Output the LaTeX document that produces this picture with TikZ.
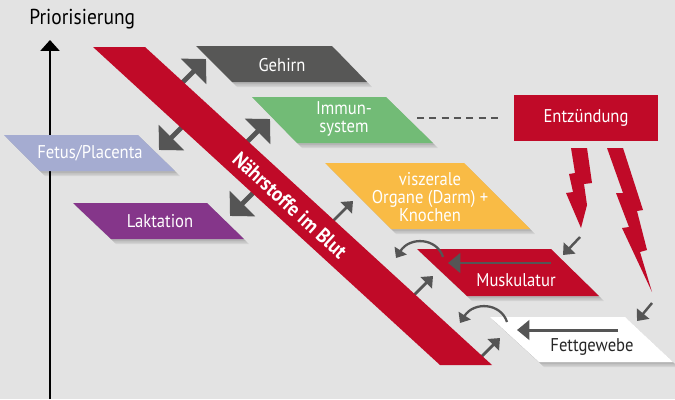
\documentclass[tikz,border=0pt]{standalone}
\usepackage{fontspec}
\setmainfont{PT Sans}[FakeStretch=0.9]
\usetikzlibrary{arrows.meta}
\definecolor{bg}{RGB}{227,227,227}
\definecolor{nred}{RGB}{192,10,40}
\definecolor{dgray}{RGB}{87,87,86}
\definecolor{agray}{RGB}{85,85,85}
\definecolor{ngreen}{RGB}{114,187,118}
\definecolor{nlav}{RGB}{165,172,209}
\definecolor{npurp}{RGB}{133,54,138}
\definecolor{norange}{RGB}{249,187,69}
\newcommand\shadowpoly[4]{%
  \foreach \s in {2,3.5,5}{\fill[black,opacity=0.07,shift={(\s,\s)}] #1 -- #2 -- #3 -- #4 -- cycle;}}
\begin{document}
\begin{tikzpicture}[x=0.02cm,y=-0.02cm,
  lbl/.style={font=\fontsize{10.5}{10.2}\selectfont, text=white, align=center, inner sep=0pt},
  bigarrow/.style={draw=agray, line width=2.8pt, -{Triangle[width=20pt,length=10pt]}},
  thinarrow/.style={draw=agray, line width=1.6pt, -{Triangle[width=9pt,length=5.5pt]}},
  innerarrow/.style={draw=agray, line width=1.7pt, -{Triangle[width=11pt,length=7pt]}},
  curvearrow/.style={draw=agray, line width=1.3pt, -{Triangle[width=8pt,length=5pt]}}]
\useasboundingbox (0,0) rectangle (675,399);
\fill[bg] (0,0) rectangle (675,399);

% title and axis
\node[font=\fontsize{12.3}{14}\selectfont, text=black, anchor=base west, inner sep=0pt] (title) at (29,24) {Priorisierung};
\coordinate (axbot) at (50,399);
\coordinate (axtop) at (50,40);
\draw[line width=1.2pt, -{Triangle[width=10.8pt,length=6.2pt]}] (axbot) -- (axtop);

% shadows
\shadowpoly{(196,46)}{(332,46)}{(367,82)}{(232,82)}
\shadowpoly{(252,97)}{(386,97)}{(433,143)}{(297,143)}
\shadowpoly{(4,135)}{(138,135)}{(175,171)}{(40,171)}
\shadowpoly{(73,203)}{(207,203)}{(244,239)}{(111,239)}
\shadowpoly{(325,163)}{(464,163)}{(530,229)}{(391,229)}
\shadowpoly{(417,249)}{(551,249)}{(599,296)}{(467,296)}
\shadowpoly{(490,317)}{(625,317)}{(673,362)}{(539,362)}

% boxes
\fill[dgray] (196,46) -- (332,46) -- (367,82) -- (232,82) -- cycle;
\node[lbl] (geh) at (282,65) {Gehirn};
\fill[ngreen] (252,97) -- (386,97) -- (433,143) -- (297,143) -- cycle;
\node[lbl] (imm) at (344,119) {Immun-\\system};
\fill[nlav] (4,135) -- (138,135) -- (175,171) -- (40,171) -- cycle;
\node[lbl] (fet) at (90,153) {Fetus/Placenta};
\fill[npurp] (73,203) -- (207,203) -- (244,239) -- (111,239) -- cycle;
\node[lbl] (lak) at (160,221) {Laktation};
\fill[norange] (325,163) -- (464,163) -- (530,229) -- (391,229) -- cycle;
\node[lbl] (visz) at (430,197) {viszerale\\Organe (Darm) +\\Knochen};
\fill[nred] (417,249) -- (551,249) -- (599,296) -- (467,296) -- cycle;
\node[lbl] (musk) at (516,280) {Muskulatur};
\fill[white] (490,317) -- (625,317) -- (673,362) -- (539,362) -- cycle;
\node[lbl, text=black!85] (fett) at (592,347) {Fettgewebe};
\fill[nred] (514,95) rectangle (658,141);
\node[lbl] (entz) at (586,118) {Entzündung};

% dashed link
\coordinate (d1) at (417,118);
\coordinate (d2) at (502,118);
\draw[agray, line width=1.2pt, dash pattern=on 4pt off 3pt] (d1) -- (d2);

% arrows from band
\coordinate (aT) at (176,89);  \coordinate (aH) at (206,59);
\coordinate (bT) at (187,122); \coordinate (bH) at (159,150);
\coordinate (cT) at (240,149); \coordinate (cH) at (270,119);
\coordinate (dT) at (258,188); \coordinate (dH) at (230,216);
\coordinate (eT) at (330,224); \coordinate (eH) at (353,201);
\coordinate (fT) at (410,299); \coordinate (fH) at (433,276);
\coordinate (gT) at (478,360); \coordinate (gH) at (500,338);
\draw[bigarrow] (aT) -- (aH);
\draw[bigarrow] (bT) -- (bH);
\draw[bigarrow] (cT) -- (cH);
\draw[bigarrow] (dT) -- (dH);
\draw[thinarrow] (eT) -- (eH);
\draw[thinarrow] (fT) -- (fH);
\draw[thinarrow] (gT) -- (gH);

% band
\fill[nred] (93,47) -- (145,47) -- (492,365) -- (440,365) -- cycle;
\node[font=\fontsize{11.8}{13}\selectfont\bfseries, text=white, rotate=-42.5, inner sep=0pt] (band) at (290,205) {Nährstoffe im Blut};

% inner arrows
\coordinate (m1) at (551,263); \coordinate (m2) at (448,263);
\draw[innerarrow] (m1) -- (m2);
\coordinate (f1) at (618,330); \coordinate (f2) at (517,330);
\draw[innerarrow] (f1) -- (f2);

% curved arrows
\coordinate (cm1) at (443,257); \coordinate (cm2) at (396,258);
\draw[curvearrow] (cm1) .. controls (437,238) and (410,236) .. (cm2);
\coordinate (cf1) at (507,322); \coordinate (cf2) at (460,323);
\draw[curvearrow] (cf1) .. controls (501,303) and (474,301) .. (cf2);

% lightning bolts
\fill[nred] (571,148) -- (587,148) -- (592,183) -- (584,184) -- (587,205) -- (581,228) -- (566,193) -- (573,192) -- (569,174) -- (575,173) -- cycle;
\fill[nred] (607,148) -- (623,148) -- (643,210) -- (637,211) -- (647,250) -- (640,252) -- (652,292) -- (622,228) -- (629,227) -- (616,193) -- (623,193) -- cycle;

% small arrows from bolts
\coordinate (h1) at (580,237); \coordinate (h2) at (563,255);
\draw[thinarrow, line width=1.4pt] (h1) -- (h2);
\coordinate (i1) at (652,303); \coordinate (i2) at (637,321);
\draw[thinarrow, line width=1.4pt] (i1) -- (i2);
\end{tikzpicture}
\end{document}
